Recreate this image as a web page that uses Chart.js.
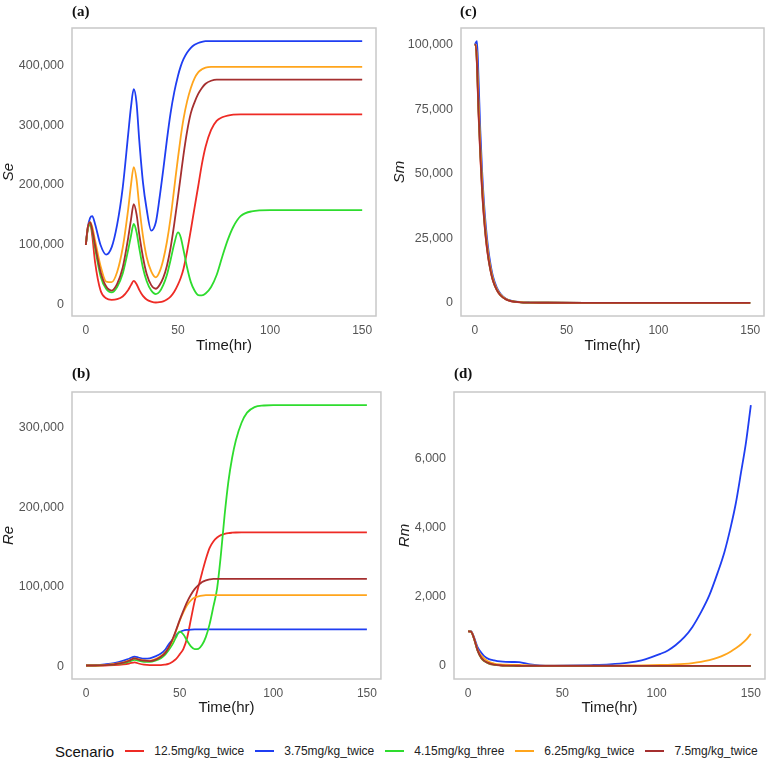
<!DOCTYPE html>
<html>
<head>
<meta charset="utf-8">
<script src="https://cdn.jsdelivr.net/npm/chart.js@4.4.1/dist/chart.umd.min.js"></script>
<style>
  html, body { margin: 0; padding: 0; background: #ffffff; }
  #wrap { position: relative; width: 768px; height: 759px; overflow: hidden; background: #fff; }
  canvas { position: absolute; }
  .plab { position: absolute; font-family: "Liberation Serif", "Times New Roman", serif; font-weight: bold; font-size: 15px; line-height: 15px; color: #111; }
  #legend { position: absolute; left: 55px; top: 741px; height: 20px; display: flex; align-items: center; font-family: "Liberation Sans", Arial, sans-serif; white-space: nowrap; }
  #legend .ttl { font-size: 15px; color: #111; }
  #legend .ln { display: block; width: 19px; height: 2px; margin-left: 11px; margin-right: 10px; }
  #legend .tx { font-size: 12px; color: #222; }
</style>
</head>
<body>
<div id="wrap">
  <canvas id="cA" width="384" height="355" style="left:0px;top:0px;"></canvas>
  <canvas id="cC" width="384" height="355" style="left:384px;top:0px;"></canvas>
  <canvas id="cB" width="384" height="365" style="left:0px;top:355px;"></canvas>
  <canvas id="cD" width="384" height="365" style="left:384px;top:355px;"></canvas>
  <div class="plab" style="left:72px;top:4px;">(a)</div>
  <div class="plab" style="left:460px;top:4px;">(c)</div>
  <div class="plab" style="left:72px;top:366px;">(b)</div>
  <div class="plab" style="left:454px;top:366px;">(d)</div>
  <div id="legend"></div>
</div>
<script>
// ---------------- data ----------------
const scenarios = ['12.5mg/kg_twice', '3.75mg/kg_twice', '4.15mg/kg_three', '6.25mg/kg_twice', '7.5mg/kg_twice'];
const xTicks = [0, 50, 100, 150];
const seTicks = [0, 100000, 200000, 300000, 400000];
const reTicks = [0, 100000, 200000, 300000];
const smTicks = [0, 25000, 50000, 75000, 100000];
const rmTicks = [0, 2000, 4000, 6000];

// (a) Se
const timeSe = [0,1,2.3,3.5,5,8,11,14,17,20,23,24.5,26,27.5,29,31,33,35.5,38,40,42,44,46,48,50,51.5,53,55,57,59,61,63,65,68,71,74,77,80,84,90,100,150];
const se_12_5 = [100e3,125e3,137e3,115e3,72e3,24e3,11e3,8.5e3,9.5e3,14e3,25e3,33e3,40e3,35e3,25e3,15e3,9e3,5.5e3,4e3,4.5e3,6e3,9e3,14e3,22e3,34e3,45e3,60e3,90e3,125e3,162e3,198e3,235e3,264e3,292e3,307e3,313e3,316e3,317.5e3,318e3,318e3,318e3,318e3];
const se_3_75 = [100e3,128e3,145e3,148e3,135e3,100e3,84e3,96e3,134e3,195e3,285e3,330e3,360e3,338e3,275e3,205e3,160e3,124e3,138e3,178e3,225e3,275e3,320e3,355e3,382e3,398e3,410e3,421e3,429e3,434e3,437e3,439e3,440e3,440e3,440e3,440e3,440e3,440e3,440e3,440e3,440e3,440e3];
const se_4_15 = [100e3,125e3,134e3,122e3,95e3,48e3,27e3,21e3,30e3,52e3,92e3,115e3,135e3,122e3,95e3,62e3,40e3,24e3,18e3,22e3,33e3,50e3,75e3,102e3,121e3,113e3,92e3,62e3,38e3,24e3,16.5e3,16e3,19e3,30e3,50e3,80e3,108e3,130e3,148e3,156e3,158e3,158e3];
const se_6_25 = [100e3,128e3,138e3,130e3,108e3,65e3,39e3,38e3,55e3,95e3,160e3,200e3,230e3,210e3,165e3,115e3,80e3,56e3,46e3,55e3,75e3,105e3,145e3,195e3,245e3,280e3,310e3,340e3,362e3,378e3,388e3,393e3,396e3,397e3,397e3,397e3,397e3,397e3,397e3,397e3,397e3,397e3];
const se_7_5 = [100e3,128e3,138e3,125e3,100e3,55e3,31e3,24e3,35e3,62e3,112e3,142e3,168e3,152e3,118e3,80e3,52e3,33e3,27e3,33e3,45e3,65e3,95e3,135e3,180e3,215e3,250e3,290e3,320e3,338e3,352e3,362e3,369e3,374e3,376e3,376e3,376e3,376e3,376e3,376e3,376e3,376e3];

// (b) Re
const timeRe = [0,5,10,15,20,23,26,28,31,34,37,40,42,44,46,48,50,52,54,56,58,60,62,64,66,68,70,72,74,76,78,80,83,86,90,95,100,150];
const re_12_5 = [1e3,1e3,1e3,1.5e3,2.5e3,3.5e3,5e3,3.5e3,2e3,1.5e3,1.5e3,1.5e3,2e3,3e3,5.5e3,9e3,15e3,22e3,36e3,59e3,82e3,100e3,118e3,135e3,149e3,157e3,162e3,165e3,166.5e3,167.5e3,168e3,168.3e3,168.5e3,168.5e3,168.5e3,168.5e3,168.5e3,168.5e3];
const re_3_75 = [1e3,1.5e3,2.5e3,4e3,7e3,9.5e3,12e3,11e3,9.5e3,10e3,12.5e3,16e3,20e3,27e3,33e3,39e3,43e3,45e3,45.8e3,46.2e3,46.4e3,46.5e3,46.5e3,46.5e3,46.5e3,46.5e3,46.5e3,46.5e3,46.5e3,46.5e3,46.5e3,46.5e3,46.5e3,46.5e3,46.5e3,46.5e3,46.5e3,46.5e3];
const re_4_15 = [1e3,1e3,1.5e3,2.5e3,4e3,6e3,8e3,7e3,5.5e3,5.5e3,7e3,10e3,14e3,20e3,27e3,36e3,43.5e3,40e3,32e3,25e3,21.5e3,22e3,27e3,37e3,53e3,75e3,98e3,140e3,190e3,232e3,262e3,284e3,306e3,319e3,326e3,328e3,328.5e3,328.5e3];
const re_6_25 = [1e3,1e3,1.5e3,3e3,5e3,7.5e3,10e3,9e3,7.5e3,7e3,9e3,13e3,17e3,23e3,31e3,44e3,57e3,68e3,77e3,83e3,86.5e3,88e3,89e3,89.5e3,89.5e3,89.5e3,89.5e3,89.5e3,89.5e3,89.5e3,89.5e3,89.5e3,89.5e3,89.5e3,89.5e3,89.5e3,89.5e3,89.5e3];
const re_7_5 = [1e3,1e3,1.5e3,2.5e3,4.5e3,7e3,10e3,8.5e3,7e3,6.5e3,8e3,12e3,16e3,23e3,33e3,45e3,58e3,70e3,81e3,90e3,97e3,102e3,106e3,108e3,109.3e3,110e3,110e3,110e3,110e3,110e3,110e3,110e3,110e3,110e3,110e3,110e3,110e3,110e3];

// (c) Sm
const timeSm = [0,0.5,1.2,2,3,4,5,6,7,8,9,10,12,14,17,20,25,30,40,60,100,150];
const sm_12_5 = [100e3,100e3,92e3,74e3,57e3,43e3,33e3,25e3,19e3,14.5e3,11e3,8.3e3,4.9e3,2.9e3,1.3e3,600,200,100,30,0,0,0];
const sm_3_75 = [100e3,100.8e3,101.5e3,88e3,67e3,51e3,39e3,30e3,23e3,17.5e3,13.3e3,10e3,5.9e3,3.5e3,1.6e3,800,300,120,40,0,0,0];
const sm_4_15 = [100e3,100e3,93e3,76e3,59e3,45e3,34.5e3,26e3,20e3,15e3,11.5e3,8.7e3,5.1e3,3e3,1.4e3,650,220,100,30,0,0,0];
const sm_6_25 = [100e3,100.2e3,95e3,79e3,61e3,47e3,36e3,27.5e3,21e3,16e3,12.2e3,9.2e3,5.4e3,3.2e3,1.5e3,700,250,100,30,0,0,0];
const sm_7_5 = [100e3,100e3,92.5e3,75e3,58e3,44e3,33.5e3,25.5e3,19.5e3,14.8e3,11.2e3,8.5e3,5e3,2.95e3,1.35e3,620,210,100,30,0,0,0];

// (d) Rm
const timeRm = [0,1.5,3,5,7,8.5,11,13.8,17,20,24,27,30,33,38,45,55,65,75,85,92,97,102,106,110,114.7,119,123.5,128,132.4,136,139.4,142,144.7,147.5,150];
const rm_12_5 = [1000,990,800,440,220,140,70,35,18,10,6,5,3,2,1,0.5,0.3,0.2,0.1,0.1,0.1,0.1,0.1,0.1,0.1,0.1,0.1,0.1,0.1,0.1,0.1,0.1,0.1,0.1,0.1,0.1];
const rm_3_75 = [1000,1010,850,545,380,287,200,161,130,118,115,112,80,46,20,12,15,25,45,95,165,250,350,450,600,832,1130,1550,2050,2700,3300,4040,4700,5570,6500,7550];
const rm_4_15 = [1000,995,810,450,230,148,75,38,20,11,7,5.5,3.5,2.2,1.2,0.6,0.4,0.3,0.3,0.3,0.3,0.3,0.3,0.3,0.3,0.3,0.3,0.3,0.3,0.3,0.3,0.3,0.3,0.3,0.3,0.3];
const rm_6_25 = [1000,1000,830,480,300,220,120,70,45,35,32,30,22,15,10,8,8,9,11,14,18,22,28,34,45,62,85,120,170,240,320,420,510,620,760,930];
const rm_7_5 = [1000,995,820,460,240,155,80,40,21,12,7.5,6,3.5,2.2,1.2,0.6,0.4,0.3,0.3,0.3,0.3,0.3,0.3,0.3,0.3,0.3,0.3,0.3,0.3,0.3,0.3,0.3,0.3,0.3,0.3,0.3];

// ---------------- style ----------------
const colors = ['#ee2b25', '#1f3ef2', '#2edc2e', '#ffa51c', '#a52f2f'];
const FONT = '"Liberation Sans", Arial, Helvetica, sans-serif';
Chart.defaults.font.family = FONT;

const panelBorder = {
  id: 'panelBorder',
  afterDraw(chart) {
    const {ctx, chartArea: a} = chart;
    ctx.save();
    ctx.strokeStyle = '#c8c8c8';
    ctx.lineWidth = 1.5;
    ctx.strokeRect(a.left, a.top, a.right - a.left, a.bottom - a.top);
    ctx.restore();
  }
};

function makePanel(id, time, series, cfg) {
  new Chart(document.getElementById(id), {
    type: 'line',
    data: {
      datasets: series.map((vals, i) => ({
        label: scenarios[i],
        data: time.map((t, j) => ({x: t, y: vals[j]})),
        borderColor: colors[i],
        borderWidth: 1.8,
        pointRadius: 0,
        fill: false,
        cubicInterpolationMode: 'monotone',
        order: series.length - i
      }))
    },
    options: {
      responsive: false,
      animation: false,
      devicePixelRatio: 1,
      layout: { padding: cfg.padding },
      plugins: { legend: { display: false }, tooltip: { enabled: false }, title: { display: false } },
      scales: {
        x: {
          type: 'linear', min: -7.5, max: 157.5,
          afterBuildTicks: ax => { ax.ticks = xTicks.map(v => ({value: v})); },
          afterFit: s => { s.height = cfg.xH; },
          grid: { display: false, drawTicks: false },
          border: { display: false },
          ticks: { color: '#555', font: { size: 12, family: FONT }, padding: 7, maxRotation: 0, autoSkip: false },
          title: { display: true, text: 'Time(hr)', color: '#1a1a1a', font: { size: 15, family: FONT }, padding: { top: 0, bottom: cfg.xTitlePad } }
        },
        y: {
          type: 'linear', min: cfg.yMin, max: cfg.yMax,
          afterBuildTicks: ax => { ax.ticks = cfg.yTicks.map(v => ({value: v})); },
          afterFit: s => { s.width = cfg.yW; },
          grid: { display: false, drawTicks: false },
          border: { display: false },
          ticks: { color: '#555', font: { size: 12.5, family: FONT }, padding: 8, autoSkip: false,
                   callback: v => Number(v).toLocaleString('en-US') },
          title: { display: true, text: cfg.yTitle, color: '#1a1a1a', font: { size: 15, style: 'italic', family: FONT }, padding: { top: cfg.yTitlePad, bottom: 0 } }
        }
      }
    },
    plugins: [panelBorder]
  });
}

makePanel('cA', timeSe, [se_12_5, se_3_75, se_4_15, se_6_25, se_7_5], {
  padding: { top: 28, right: 8, bottom: 0, left: 0 }, xH: 39, yW: 72, xTitlePad: 0, yTitlePad: 0,
  yMin: -18500, yMax: 462000, yTicks: seTicks, yTitle: 'Se'
});
makePanel('cC', timeSm, [sm_12_5, sm_3_75, sm_4_15, sm_6_25, sm_7_5], {
  padding: { top: 28, right: 4, bottom: 0, left: 0 }, xH: 39, yW: 77, xTitlePad: 0, yTitlePad: 7,
  yMin: -5100, yMax: 106600, yTicks: smTicks, yTitle: 'Sm'
});
makePanel('cB', timeRe, [re_12_5, re_3_75, re_4_15, re_6_25, re_7_5], {
  padding: { top: 37, right: 2, bottom: 0, left: 0 }, xH: 41, yW: 72, xTitlePad: 3, yTitlePad: 0,
  yMin: -16000, yMax: 345000, yTicks: reTicks, yTitle: 'Re'
});
makePanel('cD', timeRm, [rm_12_5, rm_3_75, rm_4_15, rm_6_25, rm_7_5], {
  padding: { top: 37, right: 3, bottom: 0, left: 0 }, xH: 41, yW: 70, xTitlePad: 3, yTitlePad: 12,
  yMin: -377, yMax: 7927, yTicks: rmTicks, yTitle: 'Rm'
});

// legend built from the series names and colours
const leg = document.getElementById('legend');
const ttl = document.createElement('span');
ttl.className = 'ttl'; ttl.textContent = 'Scenario';
leg.appendChild(ttl);
scenarios.forEach((name, i) => {
  const ln = document.createElement('div');
  ln.className = 'ln'; ln.style.backgroundColor = colors[i];
  const tx = document.createElement('span');
  tx.className = 'tx'; tx.textContent = name;
  leg.appendChild(ln); leg.appendChild(tx);
});
</script>
</body>
</html>
